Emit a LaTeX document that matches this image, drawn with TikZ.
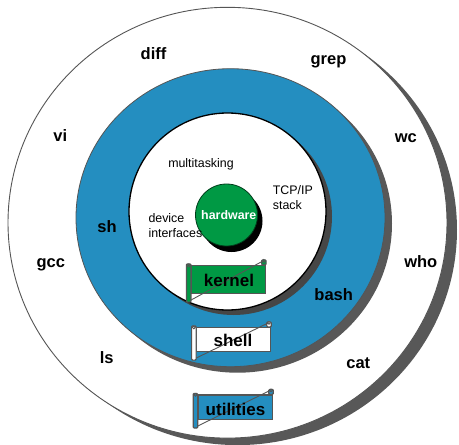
\documentclass[tikz,border=0pt]{standalone}
\usepackage{fontspec}
\setmainfont{Liberation Sans}
\usetikzlibrary{calc}
\definecolor{ringblue}{RGB}{36,142,192}
\definecolor{hwgreen}{RGB}{0,153,68}
\definecolor{shadowgray}{RGB}{88,88,88}
\definecolor{innershadow}{RGB}{70,70,70}
\definecolor{bordergray}{RGB}{85,85,85}
\tikzset{
  biglabel/.style={font=\fontsize{16.5}{18}\selectfont\bfseries, text=black, anchor=base, inner sep=0pt},
  smalllabel/.style={font=\fontsize{12.4}{15}\selectfont, text=black, anchor=base west, inner sep=0pt, align=left},
  bannerlabel/.style={font=\fontsize{17}{19}\selectfont\bfseries, text=black, anchor=base, inner sep=0pt},
  bannerbox/.style={draw=bordergray, line width=1.2pt, inner sep=0pt},
  bannerline/.style={draw=bordergray, line width=0.9pt}
}
% #1 name, #2 cx, #3 cy, #4 w, #5 h, #6 fill
\newcommand{\scrollbanner}[6]{%
  \node[bannerbox, fill=#6, minimum width=#4pt, minimum height=#5pt] (#1) at (#2,#3) {};
  \draw[bannerbox, fill=#6, rounded corners=1pt]
    ($(#1.north west)+(-4.5,-1)$) rectangle ($(#1.south west)+(0,8)$);
  \draw[bannerbox, fill=#6, rounded corners=1pt]
    ($(#1.north east)+(-4.5,-5)$) rectangle ($(#1.north east)+(0,0)$);
  \draw[bannerline, fill=#6] ($(#1.north west)+(-2.25,0.5)$) circle[radius=1.4pt];
  \draw[bannerline, fill=#6] ($(#1.north east)+(-2.25,-4)$) circle[radius=1.4pt];
  \draw[bannerline] ($(#1.south west)+(0,6)$) -- ($(#1.north east)+(-3,-4)$);
}
\begin{document}
\begin{tikzpicture}[x=1pt,y=-1pt]
\useasboundingbox (0,0) rectangle (459,445);
% outer utilities ring
\fill[shadowgray] (237.5,229.7) ellipse [x radius=219.5pt, y radius=215.4pt];
\filldraw[fill=white, draw=bordergray, line width=0.9pt] (227.5,222.7) ellipse [x radius=219.5pt, y radius=215.4pt];
% shell ring
\fill[shadowgray] (237.5,223.7) ellipse [x radius=154.5pt, y radius=149pt];
\filldraw[fill=ringblue, draw=bordergray, line width=0.8pt] (230.5,217.7) ellipse [x radius=154.5pt, y radius=149pt];
% kernel disc
\fill[innershadow] (233.5,216.5) circle [radius=98.5pt];
\filldraw[fill=white, draw=black, line width=1.3pt] (227.5,211.5) circle [radius=98.5pt];
% hardware
\fill[black] (231.5,221) circle [radius=31pt];
\filldraw[fill=hwgreen, draw=black!60!hwgreen, line width=0.8pt] (226.5,215) circle [radius=31pt];
\node[font=\fontsize{12.4}{14}\selectfont\bfseries, text=white, anchor=base, inner sep=0pt] (hw) at (228.8,219.3) {hardware};

% kernel texts
\node[smalllabel, anchor=base] (multi) at (201,167.3) {multitasking};
\node[smalllabel] (tcp) at (272.7,209.3) {TCP/IP\\stack};
\node[smalllabel] (dev) at (148.3,237.3) {device\\interfaces};

% shell ring labels
\node[biglabel] (sh) at (107,232.7) {sh};
\node[biglabel] (bash) at (333.7,300.7) {bash};

% utilities labels
\node[biglabel] (diff) at (153.5,59.3) {diff};
\node[biglabel] (grep) at (328.5,64.5) {grep};
\node[biglabel] (vi) at (60.3,141.7) {vi};
\node[biglabel] (wc) at (405.8,142.7) {wc};
\node[biglabel] (gcc) at (50.8,267.7) {gcc};
\node[biglabel] (who) at (420.8,267.3) {who};
\node[biglabel] (ls) at (106.7,363.3) {ls};
\node[biglabel] (cat) at (358.3,368.3) {cat};

% banners
\scrollbanner{kernelbox}{228.5}{279.5}{74}{28}{hwgreen}
\node[bannerlabel] (kerneltxt) at (229,286.7) {kernel};
\scrollbanner{shellbox}{233.7}{339.5}{74}{24}{white}
\node[bannerlabel] (shelltxt) at (233,346.7) {shell};
\scrollbanner{utilbox}{235.5}{407.2}{74.4}{24.5}{ringblue}
\node[bannerlabel] (utiltxt) at (235.5,415) {utilities};
\end{tikzpicture}
\end{document}
